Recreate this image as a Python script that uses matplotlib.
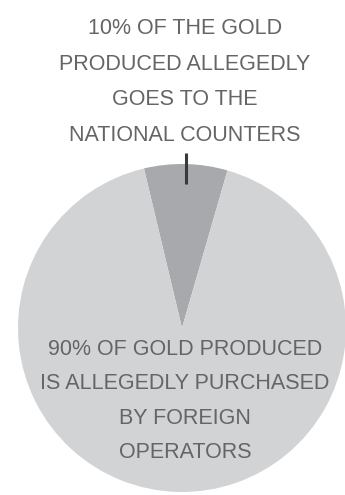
import matplotlib.pyplot as plt

# Data
# wedge sizes as drawn in the graphic (the small wedge spans about 29 degrees)
shares = [8.2, 91.8]
share_colors = ["#a7a9ac", "#d1d3d4"]

top_label = "10% OF THE GOLD\nPRODUCED ALLEGEDLY\nGOES TO THE\nNATIONAL COUNTERS"
bottom_label = "90% OF GOLD PRODUCED\nIS ALLEGEDLY PURCHASED\nBY FOREIGN\nOPERATORS"

text_color = "#646567"

# Figure in pixel-like coordinates
fig = plt.figure(figsize=(3.45, 4.95), dpi=100)
ax = fig.add_axes([0, 0, 1, 1])

# Pie
ax.pie(
    shares,
    colors=share_colors,
    startangle=73.9,
    center=(182, 167),
    radius=164,
    frame=True,
)
ax.set_xlim(0, 345)
ax.set_ylim(0, 495)
ax.set_aspect("equal")
ax.axis("off")

# Pointer tick
ax.plot([185.7, 185.7], [495 - 153, 495 - 184], color="#3a3a3a", lw=2.2,
        solid_capstyle="butt")

# Labels
ax.text(185, 495 - 82, top_label, ha="center", va="center",
        fontsize=15.5, color=text_color, family="Liberation Sans",
        linespacing=1.9)

ax.text(185, 495 - 401, bottom_label, ha="center", va="center",
        fontsize=15.5, color=text_color, family="Liberation Sans",
        linespacing=1.83)

fig.savefig("out.png", dpi=100)
